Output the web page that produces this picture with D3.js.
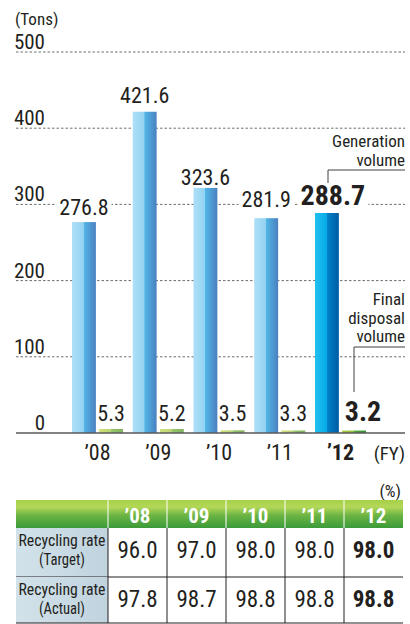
<!DOCTYPE html>
<html>
<head>
<meta charset="utf-8">
<script src="https://cdn.jsdelivr.net/npm/d3@7/dist/d3.min.js"></script>
<style>
  html, body { margin: 0; padding: 0; background: #fff; }
  svg { display: block; }
  text { font-family: "Liberation Sans Narrow", "Roboto Condensed", "Liberation Sans", sans-serif; fill: #231f20; }
</style>
</head>
<body>
<svg id="chart" width="410" height="624"></svg>
<script>
// Fiscal years
const years = ["’08", "’09", "’10", "’11", "’12"];
// Waste generation volume (tons)
const generation = [276.8, 421.6, 323.6, 281.9, 288.7];
// Final disposal volume (tons)
const disposal = [5.3, 5.2, 3.5, 3.3, 3.2];
// Y-axis ticks
const yTicks = [0, 100, 200, 300, 400, 500];
// Recycling rates (%)
const rateTarget = ["96.0", "97.0", "98.0", "98.0", "98.0"];
const rateActual = ["97.8", "98.7", "98.8", "98.8", "98.8"];
const rowLabels = [["Recycling rate", "(Target)"], ["Recycling rate", "(Actual)"]];

const svg = d3.select("#chart");
const defs = svg.append("defs");

function gradient(id, stops, vertical) {
  const g = defs.append("linearGradient").attr("id", id)
    .attr("x1", 0).attr("y1", 0)
    .attr("x2", vertical ? 0 : 1).attr("y2", vertical ? 1 : 0);
  stops.forEach(([o, c]) => g.append("stop").attr("offset", o).attr("stop-color", c));
}
gradient("genPast", [[0, "#aee0f7"], [0.48, "#92d2f1"], [0.5, "#52b6e6"], [1, "#4a80c0"]]);
gradient("genLast", [[0, "#22c0f0"], [0.5, "#05aae6"], [0.52, "#0082c8"], [1, "#005ca4"]]);
gradient("dispPast", [[0, "#cfe07a"], [0.5, "#b9d573"], [0.52, "#98c46e"], [1, "#7fb15c"]]);
gradient("dispLast", [[0, "#a8cc3a"], [0.5, "#8cc03a"], [0.52, "#55a83a"], [1, "#2f8f34"]]);
gradient("headGreen", [[0, "#a4cf48"], [0.25, "#b4d858"], [0.55, "#6cb444"], [1, "#3b9a38"]], true);
gradient("rowHead", [[0, "#d2e2ea"], [1, "#c0d3de"]]);

// ---- Chart scales ----
const y = d3.scaleLinear().domain([0, 500]).range([433, 52]);
const x = d3.scaleBand().domain(years).range([72, 366]).paddingInner(0.16).paddingOuter(0);
const xs = d3.scaleBand().domain(["gen", "disp"]).range([0, x.bandwidth()]).paddingInner(0.12);

const left = 16, right = 405;

// Dashed gridlines
svg.append("g").selectAll("line")
  .data(yTicks.filter(d => d > 0))
  .join("line")
  .attr("x1", left).attr("x2", right)
  .attr("y1", d => y(d)).attr("y2", d => y(d))
  .attr("stroke", "#6d6e71").attr("stroke-width", 1)
  .attr("stroke-dasharray", "2.5,2");

// Y tick labels
svg.append("g").selectAll("text")
  .data(yTicks)
  .join("text")
  .attr("x", 45).attr("y", d => y(d) - 3)
  .attr("text-anchor", "end")
  .attr("font-size", 21)
  .text(d => d);

svg.append("text").attr("x", 15).attr("y", 25).attr("font-size", 17).text("(Tons)");

// Bars
svg.append("g").selectAll("rect")
  .data(generation)
  .join("rect")
  .attr("x", (d, i) => x(years[i]) + xs("gen"))
  .attr("width", xs.bandwidth())
  .attr("y", d => y(d))
  .attr("height", d => y(0) - y(d))
  .attr("fill", (d, i) => i === years.length - 1 ? "url(#genLast)" : "url(#genPast)");

svg.append("g").selectAll("rect")
  .data(disposal)
  .join("rect")
  .attr("x", (d, i) => x(years[i]) + xs("disp"))
  .attr("width", xs.bandwidth())
  .attr("y", d => y(d))
  .attr("height", d => y(0) - y(d))
  .attr("fill", (d, i) => i === years.length - 1 ? "url(#dispLast)" : "url(#dispPast)");

// Baseline
svg.append("line")
  .attr("x1", left).attr("x2", right)
  .attr("y1", y(0)).attr("y2", y(0))
  .attr("stroke", "#58595b").attr("stroke-width", 1.5);

// Generation value labels (white backing hides the gridlines behind them)
const genLift = [7, 8.5, 1.5, 11, 8];
const genShift = [0, 0, 0, 0, 6];
const last = years.length - 1;
const genLabels = svg.append("g");
generation.forEach((v, i) => {
  const t = genLabels.append("text")
    .attr("x", x(years[i]) + xs("gen") + xs.bandwidth() / 2 + genShift[i])
    .attr("y", y(v) - genLift[i])
    .attr("text-anchor", "middle")
    .attr("font-size", i === last ? 28 : 22)
    .attr("font-weight", i === last ? "bold" : "normal")
    .text(v.toFixed(1));
  const b = t.node().getBBox();
  genLabels.insert("rect", () => t.node())
    .attr("x", b.x - 3).attr("y", b.y + 2)
    .attr("width", b.width + 6).attr("height", b.height - 4)
    .attr("fill", "#fff");
});

// Disposal value labels
svg.append("g").selectAll("text")
  .data(disposal)
  .join("text")
  .attr("x", (d, i) => x(years[i]) + xs("disp") + xs.bandwidth() / 2 + (i === last ? 9 : 0))
  .attr("y", 421)
  .attr("text-anchor", "middle")
  .attr("font-size", (d, i) => i === last ? 28 : 22)
  .attr("font-weight", (d, i) => i === last ? "bold" : "normal")
  .text(d => d.toFixed(1));

// X labels
svg.append("g").selectAll("text")
  .data(years)
  .join("text")
  .attr("x", d => x(d) + x.bandwidth() / 2)
  .attr("y", 460)
  .attr("text-anchor", "middle")
  .attr("font-size", 22)
  .attr("font-weight", (d, i) => i === last ? "bold" : "normal")
  .text(d => d);
svg.append("text").attr("x", 405).attr("y", 460).attr("text-anchor", "end")
  .attr("font-size", 19).text("(FY)");

// Callouts
const note = svg.append("g");
note.append("text").attr("x", 405).attr("y", 147).attr("text-anchor", "end").attr("font-size", 17).text("Generation");
note.append("text").attr("x", 405).attr("y", 166).attr("text-anchor", "end").attr("font-size", 17).text("volume");
note.append("path").attr("d", "M405,170H328V183").attr("fill", "none").attr("stroke", "#414042").attr("stroke-width", 1);
["Final", "disposal", "volume"].forEach((s, i) =>
  note.append("text").attr("x", 405).attr("y", 305 + i * 18.5).attr("text-anchor", "end").attr("font-size", 17).text(s));
note.append("path").attr("d", "M405,347H354V392").attr("fill", "none").attr("stroke", "#414042").attr("stroke-width", 1);

// ---- Recycling rate table ----
const tx0 = 16, tx1 = 403, colW = 108;
const cx = d3.scaleBand().domain(years).range([colW, tx1]);
const rowY = [500, 528, 577, 623];

svg.append("text").attr("x", 401).attr("y", 497).attr("text-anchor", "end").attr("font-size", 17).text("(%)");

svg.append("rect").attr("x", tx0).attr("y", rowY[0]).attr("width", tx1 - tx0).attr("height", rowY[1] - rowY[0])
  .attr("fill", "url(#headGreen)");
svg.append("g").selectAll("text")
  .data(years)
  .join("text")
  .attr("x", d => cx(d) + cx.bandwidth() / 2)
  .attr("y", 523)
  .attr("text-anchor", "middle")
  .attr("font-size", 21)
  .attr("font-weight", "bold")
  .style("fill", "#fff")
  .text(d => d);
// white separators in header
svg.append("g").selectAll("line")
  .data(years)
  .join("line")
  .attr("x1", d => cx(d)).attr("x2", d => cx(d))
  .attr("y1", rowY[0]).attr("y2", rowY[1])
  .attr("stroke", "#fff").attr("stroke-width", 1);

[rateTarget, rateActual].forEach((row, r) => {
  const top = rowY[r + 1], bot = rowY[r + 2];
  svg.append("rect").attr("x", tx0).attr("y", top).attr("width", colW - tx0).attr("height", bot - top)
    .attr("fill", "url(#rowHead)");
  const mid = (tx0 + colW) / 2;
  svg.append("text").attr("x", mid).attr("y", top + 18).attr("text-anchor", "middle")
    .attr("font-size", 16).attr("textLength", 87).attr("lengthAdjust", "spacingAndGlyphs")
    .text(rowLabels[r][0]);
  svg.append("text").attr("x", mid).attr("y", top + 37).attr("text-anchor", "middle")
    .attr("font-size", 16).attr("textLength", 46).attr("lengthAdjust", "spacingAndGlyphs")
    .text(rowLabels[r][1]);
  svg.append("g").selectAll("text")
    .data(row)
    .join("text")
    .attr("x", (d, i) => cx(years[i]) + cx.bandwidth() / 2)
    .attr("y", top + 30)
    .attr("text-anchor", "middle")
    .attr("font-size", 23)
    .attr("font-weight", (d, i) => i === last ? "bold" : "normal")
    .text(d => d);
  svg.append("g").selectAll("line")
    .data(years)
    .join("line")
    .attr("x1", d => cx(d)).attr("x2", d => cx(d))
    .attr("y1", top).attr("y2", bot)
    .attr("stroke", "#231f20").attr("stroke-width", 1);
  svg.append("line").attr("x1", tx0).attr("x2", tx1).attr("y1", bot).attr("y2", bot)
    .attr("stroke", "#231f20").attr("stroke-width", 1);
});
</script>
</body>
</html>
